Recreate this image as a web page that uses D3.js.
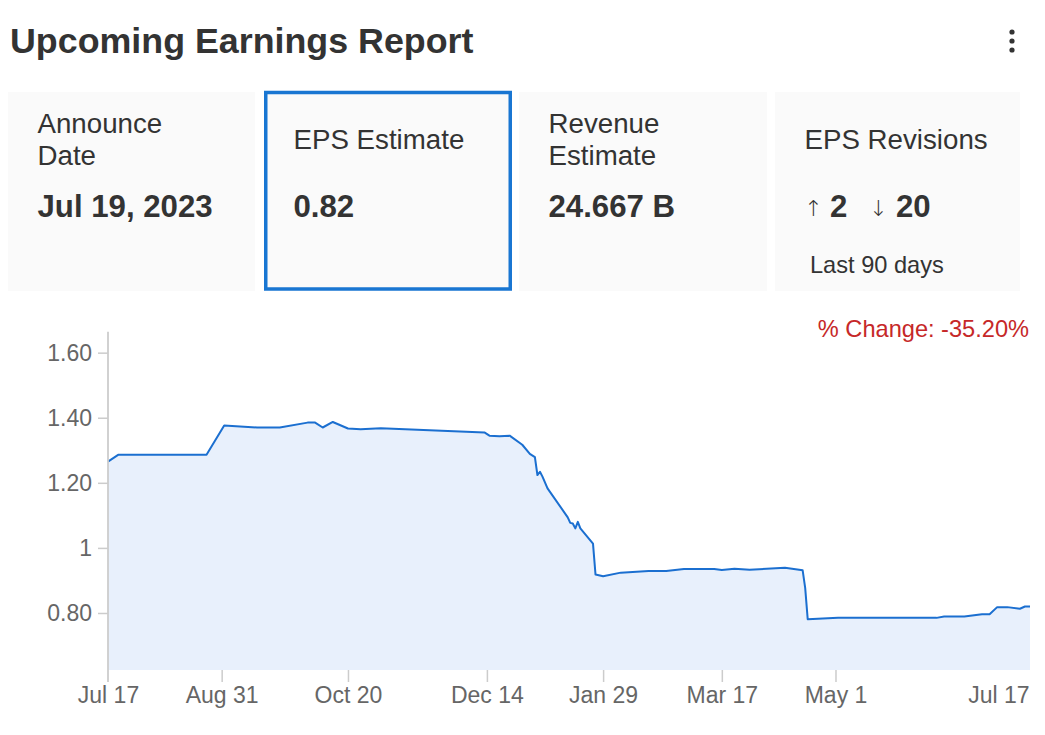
<!DOCTYPE html>
<html>
<head>
<meta charset="utf-8">
<script src="https://cdn.jsdelivr.net/npm/d3@7"></script>
<style>
  html, body { margin: 0; padding: 0; background: #fff; }
  svg { display: block; font-family: "Liberation Sans", Arial, Helvetica, sans-serif; }
</style>
</head>
<body>
<svg id="chart" width="1045" height="735"></svg>
<script>
// ---------- data ----------
const titleText = "Upcoming Earnings Report";
const cardLabels = [["Announce", "Date"], ["EPS Estimate"], ["Revenue", "Estimate"], ["EPS Revisions"]];
const cardValues = ["Jul 19, 2023", "0.82", "24.667 B", ""];
const revisionsUp = "2";
const revisionsDown = "20";
const revisionsNote = "Last 90 days";
const changeLabel = "% Change: -35.20%";

const dates = [
  "2022-07-17","2022-07-21","2022-08-25","2022-09-01","2022-09-14","2022-09-23",
  "2022-10-04","2022-10-07","2022-10-10","2022-10-14","2022-10-20","2022-10-25",
  "2022-11-02","2022-12-13","2022-12-15","2022-12-19","2022-12-23","2022-12-28",
  "2022-12-31","2023-01-02","2023-01-03","2023-01-04","2023-01-05","2023-01-07",
  "2023-01-15","2023-01-16","2023-01-17","2023-01-18","2023-01-19","2023-01-20",
  "2023-01-25","2023-01-26","2023-01-29","2023-02-05","2023-02-16","2023-02-23",
  "2023-03-02","2023-03-14","2023-03-17","2023-03-22","2023-03-28","2023-04-11",
  "2023-04-18","2023-04-19","2023-04-20","2023-05-02","2023-06-10","2023-06-13",
  "2023-06-21","2023-06-28","2023-07-01","2023-07-04","2023-07-08","2023-07-13",
  "2023-07-15","2023-07-17"
];
const epsValues = [
  1.265,1.286,1.286,1.376,1.370,1.370,
  1.385,1.385,1.370,1.387,1.367,1.365,
  1.368,1.355,1.345,1.343,1.345,1.317,
  1.289,1.279,1.224,1.234,1.219,1.183,
  1.094,1.077,1.075,1.060,1.080,1.060,
  1.013,0.918,0.913,0.924,0.929,0.929,
  0.935,0.935,0.932,0.936,0.933,0.939,
  0.931,0.877,0.781,0.785,0.785,0.789,
  0.789,0.796,0.796,0.818,0.818,0.813,
  0.820,0.820
];
const xDomain = ["2022-07-17", "2023-07-17"];
const xTickDates = ["2022-07-17","2022-08-31","2022-10-20","2022-12-14","2023-01-29","2023-03-17","2023-05-01","2023-07-17"];
const xTickLabels = ["Jul 17","Aug 31","Oct 20","Dec 14","Jan 29","Mar 17","May 1","Jul 17"];
const yTickValues = [0.8, 1.0, 1.2, 1.4, 1.6];
const yTickLabels = ["0.80","1","1.20","1.40","1.60"];

// ---------- drawing ----------
const parse = d3.utcParse("%Y-%m-%d");
const data = dates.map((d, i) => ({ date: parse(d), value: epsValues[i] }));
const svg = d3.select("#chart");

// Title
svg.append("text").attr("x", 10).attr("y", 53)
  .attr("font-size", 35.8).attr("font-weight", "bold").attr("fill", "#333")
  .text(titleText);

// Kebab menu
[32, 41, 50].forEach(cy => svg.append("circle").attr("cx", 1012).attr("cy", cy).attr("r", 2.6).attr("fill", "#333"));

// Cards
const cards = [
  { x: 8, w: 247 },
  { x: 264, w: 248, active: true },
  { x: 519, w: 248 },
  { x: 775, w: 245 }
];
cards.forEach((c, i) => {
  const g = svg.append("g");
  if (c.active) {
    g.append("rect").attr("x", c.x + 1.75).attr("y", 92.5).attr("width", c.w - 3.5).attr("height", 196.5)
      .attr("fill", "#fafafa").attr("stroke", "#1976d2").attr("stroke-width", 3.5);
  } else {
    g.append("rect").attr("x", c.x).attr("y", 92).attr("width", c.w).attr("height", 199).attr("fill", "#fafafa");
  }
  const tx = c.x + 29.5;
  const lines = cardLabels[i];
  lines.forEach((t, j) => {
    const y = lines.length === 2 ? 133 + j * 32 : 149;
    g.append("text").attr("x", tx).attr("y", y).attr("font-size", 27.7).attr("fill", "#333").text(t);
  });
  if (cardValues[i]) {
    g.append("text").attr("x", tx).attr("y", 217).attr("font-size", 31.2)
      .attr("font-weight", "bold").attr("fill", "#333").text(cardValues[i]);
  }
});
// revisions card content
const rv = svg.append("g").attr("fill", "#333");
rv.append("text").attr("x", 804).attr("y", 216).attr("font-size", 22).attr("font-family", "DejaVu Sans").attr("font-weight", 200).text("↑");
rv.append("text").attr("x", 830).attr("y", 217).attr("font-size", 31.2).attr("font-weight", "bold").text(revisionsUp);
rv.append("text").attr("x", 869).attr("y", 216).attr("font-size", 22).attr("font-family", "DejaVu Sans").attr("font-weight", 200).text("↓");
rv.append("text").attr("x", 896).attr("y", 217).attr("font-size", 31.2).attr("font-weight", "bold").text(revisionsDown);
rv.append("text").attr("x", 810).attr("y", 273).attr("font-size", 23.6).text(revisionsNote);

// % change
svg.append("text").attr("x", 1029).attr("y", 337).attr("text-anchor", "end")
  .attr("font-size", 23.6).attr("fill", "#c62828").text(changeLabel);

// Chart scales
const plotLeft = 108, plotRight = 1030, plotTop = 331.7, plotBottom = 670;
const x = d3.scaleUtc().domain(xDomain.map(parse)).range([plotLeft, plotRight]);
const yMin = d3.min(epsValues) * 0.8, yMax = d3.max(epsValues) * 1.2;
const y = d3.scaleLinear().domain([yMin, yMax]).range([plotBottom, plotTop]);

// Area + line
const area = d3.area().x(d => x(d.date)).y0(plotBottom).y1(d => y(d.value));
const line = d3.line().x(d => x(d.date)).y(d => y(d.value));
svg.append("path").datum(data).attr("d", area).attr("fill", "#e8f0fc");
svg.append("path").datum(data).attr("d", line).attr("fill", "none")
  .attr("stroke", "#1b6fd0").attr("stroke-width", 2).attr("stroke-linejoin", "round");

// Y axis
const yAxis = d3.axisLeft(y).tickValues(yTickValues).tickSize(10).tickPadding(6)
  .tickFormat((d, i) => yTickLabels[i]);
const gy = svg.append("g").attr("transform", `translate(${plotLeft},0)`).call(yAxis);
gy.select(".domain").remove();
gy.selectAll(".tick line").attr("stroke", "#ccc").attr("stroke-width", 1.5);
gy.selectAll(".tick text").attr("fill", "#666").attr("font-size", 23)
  .attr("font-family", "\"Liberation Sans\", Arial, sans-serif");
svg.append("line").attr("x1", plotLeft).attr("x2", plotLeft).attr("y1", plotTop).attr("y2", 682)
  .attr("stroke", "#ccc").attr("stroke-width", 1.8);

// X axis
const xAxis = d3.axisBottom(x).tickValues(xTickDates.map(parse)).tickSize(12).tickPadding(5)
  .tickFormat((d, i) => xTickLabels[i]);
const gx = svg.append("g").attr("transform", `translate(0,${plotBottom})`).call(xAxis);
gx.select(".domain").remove();
gx.selectAll(".tick line").attr("stroke", "#ccc").attr("stroke-width", 1.5);
gx.selectAll(".tick text").attr("fill", "#666").attr("font-size", 23)
  .attr("font-family", "\"Liberation Sans\", Arial, sans-serif");
const nT = xTickDates.length;
gx.selectAll(".tick").filter((d, i) => i === 0).select("line").remove();
gx.selectAll(".tick").filter((d, i) => i === nT - 1).each(function() {
  d3.select(this).select("line").remove();
  d3.select(this).select("text").attr("text-anchor", "end").attr("x", -1);
});
</script>
</body>
</html>
